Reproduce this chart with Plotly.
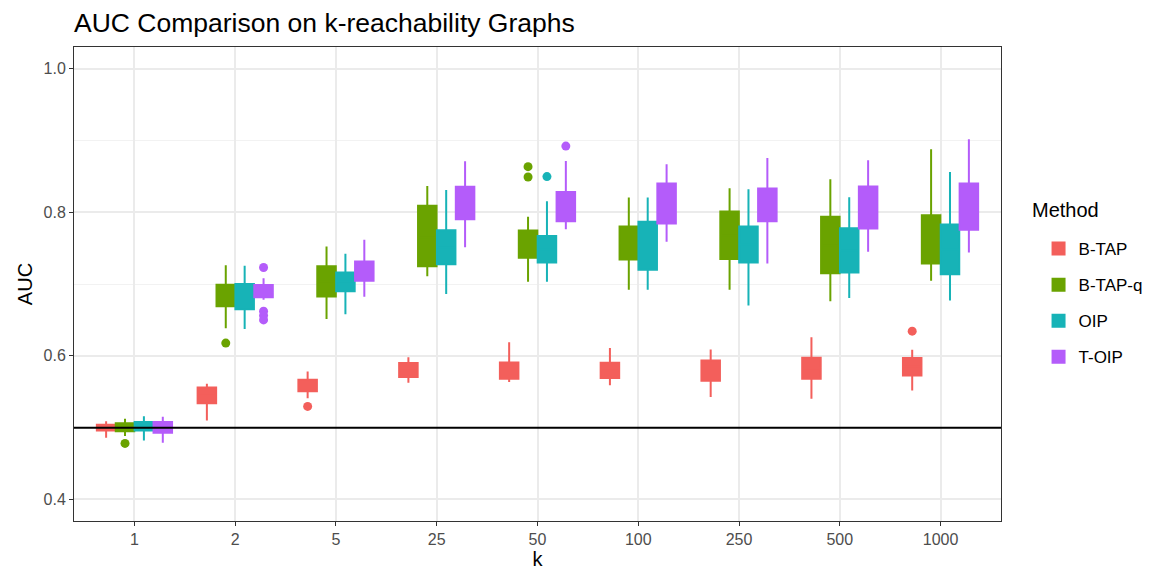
import plotly.graph_objects as go

K_LABELS = ["1", "2", "5", "25", "50", "100", "250", "500", "1000"]
METHODS = ["B-TAP", "B-TAP-q", "OIP", "T-OIP"]
COLORS = ["#F35F5B", "#6AA300", "#17B3B7", "#B45CFA"]

# B-TAP
btap_low = [0.486, 0.510, 0.541, 0.5625, 0.5635, 0.559, 0.5426, 0.5403, 0.5518]
btap_q1 = [0.496, 0.534, 0.5505, 0.5704, 0.568, 0.569, 0.5653, 0.568, 0.5727]
btap_med = [0.500, 0.545, 0.558, 0.580, 0.579, 0.580, 0.579, 0.582, 0.585]
btap_q3 = [0.504, 0.556, 0.5667, 0.590, 0.5907, 0.5903, 0.5935, 0.5972, 0.5968]
btap_high = [0.509, 0.561, 0.578, 0.598, 0.619, 0.611, 0.6088, 0.626, 0.6083]
btap_out_k = ["5", "1000"]
btap_out_v = [0.5296, 0.6343]

# B-TAP-q
btapq_low = [0.4885, 0.6385, 0.6514, 0.7107, 0.7032, 0.692, 0.692, 0.676, 0.7046]
btapq_q1 = [0.495, 0.669, 0.6825, 0.7246, 0.7365, 0.734, 0.7347, 0.7148, 0.7287]
btapq_med = [0.500, 0.684, 0.703, 0.765, 0.755, 0.757, 0.768, 0.754, 0.762]
btapq_q3 = [0.506, 0.699, 0.7246, 0.8088, 0.7746, 0.780, 0.801, 0.7935, 0.7958]
btapq_high = [0.5125, 0.726, 0.7523, 0.8366, 0.7935, 0.8204, 0.8333, 0.8458, 0.8875]
btapq_out_k = ["1", "2", "50", "50"]
btapq_out_v = [0.478, 0.6177, 0.8634, 0.849]

# OIP
oip_low = [0.482, 0.6375, 0.658, 0.686, 0.7032, 0.692, 0.670, 0.6806, 0.677]
oip_q1 = [0.496, 0.665, 0.690, 0.7274, 0.730, 0.7199, 0.730, 0.716, 0.7135]
oip_med = [0.502, 0.682, 0.703, 0.751, 0.748, 0.753, 0.755, 0.747, 0.748]
oip_q3 = [0.508, 0.700, 0.716, 0.775, 0.767, 0.7866, 0.780, 0.7778, 0.783]
oip_high = [0.516, 0.7255, 0.742, 0.831, 0.8153, 0.8204, 0.832, 0.8208, 0.856]
oip_out_k = ["50"]
oip_out_v = [0.8496]

# T-OIP
toip_low = [0.479, 0.678, 0.6824, 0.751, 0.7764, 0.759, 0.7287, 0.745, 0.744]
toip_q1 = [0.493, 0.6815, 0.7046, 0.7903, 0.7875, 0.7843, 0.7875, 0.7774, 0.7754]
toip_med = [0.500, 0.690, 0.718, 0.813, 0.808, 0.812, 0.810, 0.806, 0.808]
toip_q3 = [0.508, 0.6986, 0.7315, 0.8353, 0.8282, 0.840, 0.833, 0.8357, 0.840]
toip_high = [0.515, 0.708, 0.7616, 0.8708, 0.8713, 0.8667, 0.8754, 0.8722, 0.9014]
toip_out_k = ["2", "2", "2", "2", "50"]
toip_out_v = [0.723, 0.662, 0.656, 0.650, 0.892]

BASELINE = 0.5

stats = [
    (btap_low, btap_q1, btap_med, btap_q3, btap_high, btap_out_k, btap_out_v),
    (btapq_low, btapq_q1, btapq_med, btapq_q3, btapq_high, btapq_out_k, btapq_out_v),
    (oip_low, oip_q1, oip_med, oip_q3, oip_high, oip_out_k, oip_out_v),
    (toip_low, toip_q1, toip_med, toip_q3, toip_high, toip_out_k, toip_out_v),
]

GROUP_W = 0.75
n = len(METHODS)
bw = GROUP_W / n

fig = go.Figure()
for m, (name, col, st) in enumerate(zip(METHODS, COLORS, stats)):
    low, q1, med, q3, high, ok, ov = st
    off = -GROUP_W / 2 + bw * (m + 0.5)
    xs = [i + 1 + off for i in range(len(K_LABELS))]
    fig.add_trace(go.Box(
        x=xs, q1=q1, median=med, q3=q3, lowerfence=low, upperfence=high,
        name=name, legendgroup=name, width=bw * 0.98,
        fillcolor=col, line=dict(color=col, width=2), whiskerwidth=0,
        boxpoints=False, hoverinfo="skip",
    ))
    ox = [K_LABELS.index(k) + 1 + off for k in ok]
    fig.add_trace(go.Scatter(
        x=ox, y=ov, mode="markers", showlegend=False, legendgroup=name,
        marker=dict(color=col, size=9), hoverinfo="skip",
    ))

fig.add_shape(type="line", xref="paper", x0=0, x1=1, yref="y", y0=BASELINE, y1=BASELINE,
              line=dict(color="black", width=2), layer="above")

FONT = "Liberation Sans, Arial, sans-serif"
fig.add_annotation(text="Method", xref="paper", yref="paper", x=1.031, y=(521 - 210) / 474,
                   xanchor="left", yanchor="middle", showarrow=False,
                   font=dict(size=20, color="black", family=FONT))

fig.update_layout(
    width=1149, height=570,
    margin=dict(l=74, r=148, t=47, b=49, autoexpand=False),
    paper_bgcolor="white", plot_bgcolor="white",
    font=dict(family=FONT, color="#000000"),
    boxmode="overlay",
    title=dict(text="AUC Comparison on k-reachability Graphs", x=74 / 1149, xref="container",
               xanchor="left", y=1 - 23 / 570, yref="container", yanchor="middle",
               font=dict(size=26.5, color="black", family=FONT)),
    xaxis=dict(range=[0.4, len(K_LABELS) + 0.6], tickvals=list(range(1, len(K_LABELS) + 1)),
               ticktext=K_LABELS, showgrid=True, gridcolor="#EBEBEB", gridwidth=1.5,
               zeroline=False, showline=True, linecolor="#333333", linewidth=1, mirror=True,
               ticks="outside", ticklen=4, tickcolor="#333333", tickwidth=1,
               tickfont=dict(size=16, color="#4D4D4D"), automargin=False,
               title=dict(text="k", font=dict(size=20), standoff=4)),
    yaxis=dict(range=[0.37, 1.03], tickvals=[0.4, 0.6, 0.8, 1.0],
               ticktext=["0.4", "0.6", "0.8", "1.0"], showgrid=True, gridcolor="#EBEBEB",
               gridwidth=1.5, zeroline=False, showline=True, linecolor="#333333", linewidth=1,
               mirror=True, ticks="outside", ticklen=4, tickcolor="#333333", tickwidth=1,
               tickfont=dict(size=16, color="#4D4D4D"), automargin=False,
               minor=dict(tickvals=[0.5, 0.7, 0.9], showgrid=True, gridcolor="#F2F2F2",
                          gridwidth=1, ticks=""),
               title=dict(text="AUC", font=dict(size=20), standoff=5)),
    legend=dict(x=1.0405, xanchor="left", y=(521 - 231) / 474, yanchor="top",
                font=dict(size=17), tracegroupgap=11, bgcolor="rgba(0,0,0,0)"),
)

fig.write_html("out.html")
